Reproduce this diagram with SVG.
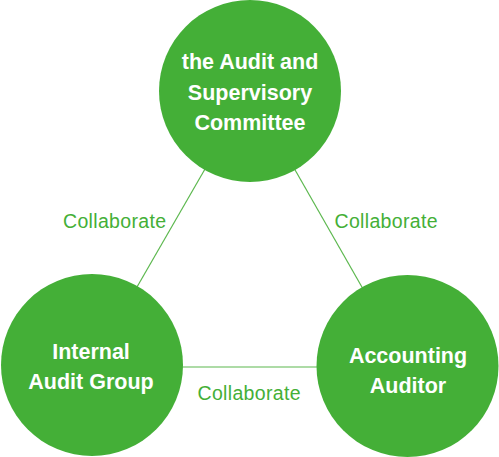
<svg xmlns="http://www.w3.org/2000/svg" width="499" height="457" viewBox="0 0 499 457">
<style>
.node{fill:#44af37}
.nt{fill:#fff;font-family:"Liberation Sans","Noto Sans",sans-serif;font-weight:bold;font-size:21.5px;text-anchor:middle}
.lbl{fill:#44af37;font-family:"Liberation Sans","Noto Sans",sans-serif;font-size:19.5px;text-anchor:middle}
.conn{stroke:#5cb84e;stroke-width:1.2;fill:none}
</style>
<rect width="499" height="457" fill="#fff"/>
<g id="connectors">
<line class="conn" x1="250" y1="91" x2="92" y2="365"/>
<line class="conn" x1="250" y1="91" x2="407" y2="366"/>
<line class="conn" x1="92" y1="367" x2="407" y2="367"/>
<text class="lbl" x="114.5" y="228" textLength="103">Collaborate</text>
<text class="lbl" x="386" y="228" textLength="103">Collaborate</text>
<text class="lbl" x="249" y="400" textLength="103">Collaborate</text>
</g>
<g id="audit-committee">
<circle class="node" cx="250" cy="91" r="91"/>
<text class="nt" x="250" y="69">the Audit and</text>
<text class="nt" x="250" y="100">Supervisory</text>
<text class="nt" x="250" y="130">Committee</text>
</g>
<g id="internal-audit">
<circle class="node" cx="92" cy="365" r="91"/>
<text class="nt" x="91" y="359">Internal</text>
<text class="nt" x="91" y="389">Audit Group</text>
</g>
<g id="accounting-auditor">
<circle class="node" cx="407.5" cy="366" r="91"/>
<text class="nt" x="408" y="363">Accounting</text>
<text class="nt" x="408" y="393">Auditor</text>
</g>
</svg>
